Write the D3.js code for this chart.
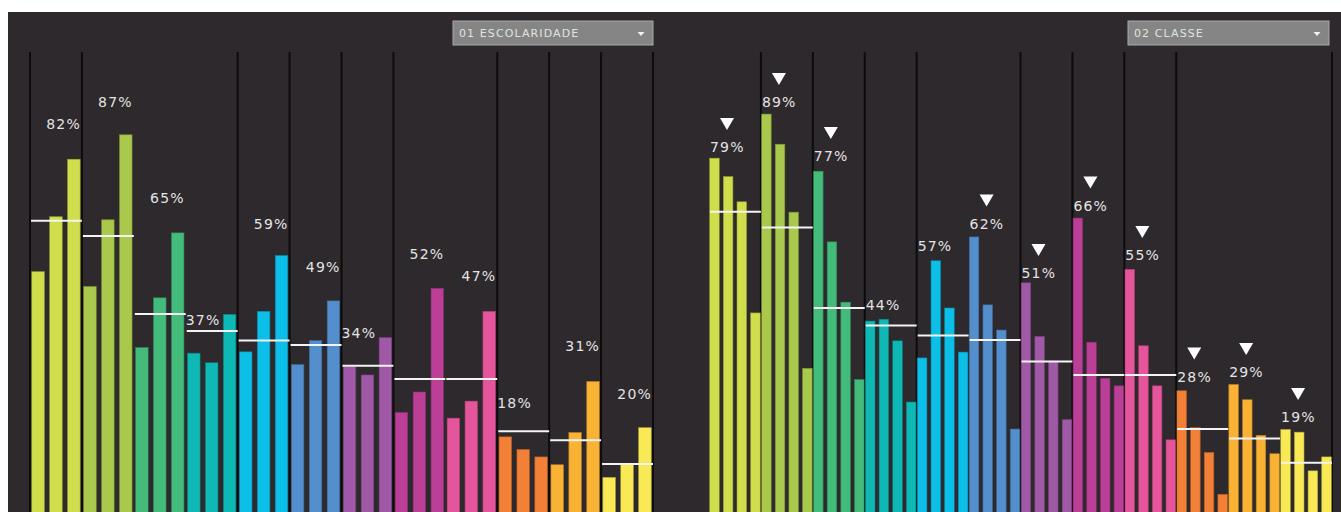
<!DOCTYPE html>
<html>
<head>
<meta charset="utf-8">
<script src="https://cdn.jsdelivr.net/npm/d3@7"></script>
<style>
  body { margin: 0; background: #fff; }
  svg { display: block; }
  text { font-family: "DejaVu Sans", sans-serif; }
</style>
</head>
<body>
<div id="viz"></div>
<script>
/*** data ***/
const groups = ["G01", "G02", "G03", "G04", "G05", "G06", "G07", "G08", "G09", "G10", "G11", "G12"];
const groupColors = ["#cfde4a", "#aac84c", "#43bb7b", "#0db8b5", "#0bbfe9", "#538ecd",
                     "#a059a6", "#bb3f97", "#e5559c", "#f28137", "#f9b233", "#f8e955"];
// overall average per colour group (white reference lines, same in both panels)
const averages = [67.3, 63.8, 45.9, 42, 39.8, 38.8, 34, 31, 31, 19, 16.9, 11.5];

// panel 1 : 01 ESCOLARIDADE (3 bars per group)
const escolaridade = [
  [55.6, 68.2, 81.4],
  [52.2, 67.5, 87],
  [38.2, 49.6, 64.5],
  [36.9, 34.7, 45.8],
  [37.2, 46.5, 59.3],
  [34.3, 39.8, 48.9],
  [33.8, 31.9, 40.5],
  [23.3, 28, 51.8],
  [22, 25.9, 46.5],
  [17.7, 14.8, 13.1],
  [11.3, 18.7, 30.4],
  [8.4, 11.5, 19.8]
];
const escolaridadeLabels = [82, 87, 65, 37, 59, 49, 34, 52, 47, 18, 31, 20];

// panel 2 : 02 CLASSE (4 bars per group)
const classe = [
  [79.2, 75.1, 69.5, 44.8],
  [89, 82.3, 67.2, 32.5],
  [76.3, 60.6, 47.2, 30],
  [43, 43.4, 38.6, 25],
  [34.8, 56.4, 45.9, 36.1],
  [61.7, 46.6, 41, 19],
  [51.5, 39.6, 34.1, 21.1],
  [65.9, 38.3, 30.3, 28.6],
  [54.5, 37.5, 28.6, 16.6],
  [27.5, 19.3, 13.8, 4.5],
  [28.9, 25.5, 17.6, 13.5],
  [18.9, 18.3, 9.7, 12.8]
];
const classeLabels = [79, 89, 77, 44, 57, 62, 51, 66, 55, 28, 29, 19];
const classeMarker = [true, true, true, false, false, true, true, true, true, true, true, true];

/*** layout ***/
const width = 1341, height = 512;

const svg = d3.select("#viz")
  .append("svg")
  .attr("width", width)
  .attr("height", height);

svg.append("rect")
  .attr("x", 8).attr("y", 12)
  .attr("width", width - 8).attr("height", height - 12)
  .attr("fill", "#2d292c");

function drawPanel(cfg) {
  const x = d3.scaleBand().domain(groups).range(cfg.xRange);
  const inner = d3.scaleBand()
    .domain(d3.range(cfg.data[0].length))
    .range([0, x.bandwidth()])
    .paddingInner(0.3)
    .paddingOuter(cfg.outer);
  const y = d3.scaleLinear().domain([0, cfg.yMax]).range([cfg.base, 52]);

  const g = svg.append("g");

  // group separators (only some of them show in the original)
  g.selectAll("line.sep")
    .data(cfg.separators)
    .join("line")
    .attr("class", "sep")
    .attr("x1", d => d < groups.length ? x(groups[d]) : x.range()[1])
    .attr("x2", d => d < groups.length ? x(groups[d]) : x.range()[1])
    .attr("y1", 52)
    .attr("y2", height)
    .attr("stroke", "#0d0b0c")
    .attr("stroke-width", 2);

  // bars
  const bg = g.selectAll("g.grp")
    .data(cfg.data)
    .join("g")
    .attr("class", "grp")
    .attr("transform", (d, i) => `translate(${x(groups[i])},0)`);

  bg.selectAll("rect")
    .data((d, i) => d.map(v => ({ v, c: groupColors[i] })))
    .join("rect")
    .attr("x", (d, j) => inner(j))
    .attr("width", inner.bandwidth())
    .attr("y", d => y(d.v))
    .attr("height", d => y(0) - y(d.v))
    .attr("fill", d => d.c)
    .attr("stroke", d => d3.color(d.c).darker(0.9))
    .attr("stroke-width", 0.6);

  // average reference lines
  g.selectAll("line.avg")
    .data(averages)
    .join("line")
    .attr("class", "avg")
    .attr("x1", (d, i) => x(groups[i]) + 1)
    .attr("x2", (d, i) => x(groups[i]) + x.bandwidth())
    .attr("y1", d => y(d))
    .attr("y2", d => y(d))
    .attr("stroke", "#f4f4f4")
    .attr("stroke-width", 2);

  // value labels
  g.selectAll("text.lbl")
    .data(cfg.labels)
    .join("text")
    .attr("class", "lbl")
    .attr("x", (d, i) => cfg.anchor(i) === "start" ? x(groups[i]) + cfg.dx : x(groups[i]) + x.bandwidth() - 1)
    .attr("y", d => y(d) - cfg.lift)
    .attr("text-anchor", (d, i) => cfg.anchor(i))
    .attr("fill", "#e4e4e4")
    .attr("font-size", 14)
    .attr("letter-spacing", 1.2)
    .text(d => d + "%");

  // down markers above the labels
  if (cfg.markers) {
    g.selectAll("path.mk")
      .data(cfg.labels.map((v, i) => ({ v, i })).filter(d => cfg.markers[d.i]))
      .join("path")
      .attr("class", "mk")
      .attr("transform", d => `translate(${x(groups[d.i]) + cfg.dx + 17},${y(d.v) - cfg.lift - 22})`)
      .attr("d", "M-7,-12L7,-12L0,0Z")
      .attr("fill", "#ffffff");
  }

  // dropdown filter box
  const dd = svg.append("g")
    .attr("transform", `translate(${cfg.dropX},21)`);
  dd.append("rect")
    .attr("width", cfg.dropW).attr("height", 24)
    .attr("fill", "#858585")
    .attr("stroke", "#a9a9a9")
    .attr("stroke-width", 1);
  dd.append("text")
    .attr("x", 6).attr("y", 16)
    .attr("fill", "#e2e2e2")
    .attr("font-size", 11)
    .attr("letter-spacing", 1.1)
    .text(cfg.title);
  dd.append("path")
    .attr("transform", `translate(${cfg.dropW - 12},11)`)
    .attr("d", "M-3.5,0L3.5,0L0,4Z")
    .attr("fill", "#f2f2f2");
}

const leftStart = new Set([3, 6, 9]);

drawPanel({
  data: escolaridade,
  labels: escolaridadeLabels,
  xRange: [30, 653],
  outer: 0.1,
  yMax: 106,
  base: 514,
  separators: [0, 1, 4, 5, 6, 7, 9, 10, 11, 12],
  anchor: i => leftStart.has(i) ? "start" : "end",
  dx: 0,
  lift: 28,
  title: "01 ESCOLARIDADE",
  dropX: 453, dropW: 200
});

drawPanel({
  data: classe,
  labels: classeLabels,
  markers: classeMarker,
  xRange: [709, 1332],
  outer: 0.05,
  yMax: 102.8,
  base: 514.5,
  separators: [1, 2, 3, 4, 6, 7, 8, 9, 12],
  anchor: i => "start",
  dx: 1,
  lift: 7,
  title: "02 CLASSE",
  dropX: 1128, dropW: 201
});
</script>
</body>
</html>
